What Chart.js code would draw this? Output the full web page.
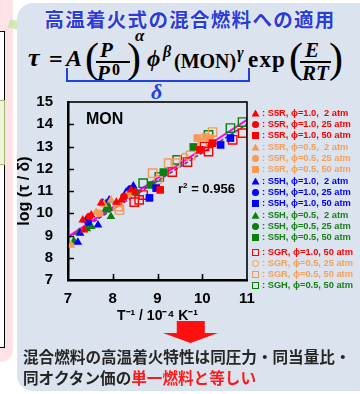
<!DOCTYPE html>
<html>
<head>
<meta charset="utf-8">
<script src="https://cdn.jsdelivr.net/npm/chart.js@4.4.1/dist/chart.umd.min.js"></script>
<style>
body { margin:0; width:360px; height:394px; overflow:hidden; background:#fff; position:relative; font-family:"Liberation Sans", Arial, sans-serif; }
.abs { position:absolute; }
#pink { left:0; top:0; width:13px; height:362px; background:#fde3e5; border-bottom-right-radius:12px; }
#box { left:-2px; top:31px; width:5px; height:315px; border:1px solid #000; background:#fff; }
#greenbox { left:-2px; top:100px; width:5px; height:63px; background:#eef4d8; border:1px solid #a8b870; }
#streak { left:8px; top:26px; width:60px; height:9px; background:linear-gradient(90deg, rgba(200,230,170,0.9), rgba(220,240,200,0.2)); transform:rotate(14deg); }
#panel { left:17px; top:3px; width:370px; height:388px; background:#dbe3ef; border-radius:16px; }
#title { left:30px; top:9px; width:320px; text-align:center; font-family:"Noto Sans CJK JP", sans-serif; font-weight:bold; font-size:19.5px; letter-spacing:1.3px; line-height:1; color:#2b3cd8; text-shadow:0 0 2px #fff; }
.f { position:absolute; font-family:"Liberation Serif", "DejaVu Serif", serif; font-weight:bold; line-height:1; color:#000; white-space:pre; }
.i { font-style:italic; }
.bar { position:absolute; height:2px; background:#000; }
.paren { font-weight:normal; font-size:42px; }
#brace { left:66px; top:68px; width:180px; height:12px; border:2px solid #2040e0; border-top:none; }
#delta { left:151px; top:81px; font-size:22px; color:#2040e0; }
#mon { left:86px; top:111px; font-weight:bold; font-size:16px; line-height:1; }
#r2 { left:178px; top:182px; font-weight:bold; font-size:13px; line-height:1; }
#r2 sup { font-size:8px; vertical-align:5px; line-height:0; }
#legend { left:252px; top:0; }
.row { position:absolute; left:0; height:11px; line-height:11px; font-weight:bold; font-size:9.3px; white-space:pre; }
.sym { position:absolute; left:0; top:2px; width:7px; height:7px; box-sizing:border-box; }
.row span.t { position:absolute; left:10px; top:0; }
#arrow { left:163px; top:321px; width:55px; height:22px; background:#ff1010; clip-path:polygon(25% 0, 76% 0, 76% 55%, 100% 55%, 50% 100%, 0 55%, 25% 55%); }
#note { left:23px; top:346px; font-family:"Noto Sans CJK JP", sans-serif; font-weight:bold; font-size:15.6px; line-height:20.5px; color:#262626; white-space:nowrap; }
#note .red { color:#ff1a1a; }
canvas { position:absolute; left:0; top:0; }
</style>
</head>
<body>
<div id="pink" class="abs"></div>
<div id="box" class="abs"></div>
<div id="greenbox" class="abs"></div>
<div id="streak" class="abs"></div>
<div id="panel" class="abs"></div>
<div id="title" class="abs">高温着火式の混合燃料への適用</div>

<div class="f i" style="left:28px;top:45px;font-size:26px;">τ</div>
<div class="f" style="left:49px;top:47px;font-size:24px;">=</div>
<div class="f i" style="left:66px;top:46px;font-size:24px;">A</div>
<div class="f paren" style="left:85px;top:37px;">(</div>
<div class="f i" style="left:100px;top:40px;font-size:21px;">P</div>
<div class="bar" style="left:96px;top:61px;width:34px;"></div>
<div class="f i" style="left:97px;top:63px;font-size:21px;">P</div>
<div class="f" style="left:112px;top:62px;font-size:16px;">0</div>
<div class="f paren" style="left:127px;top:37px;">)</div>
<div class="f i" style="left:135px;top:27px;font-size:17px;">α</div>
<div class="f i" style="left:147px;top:47px;font-size:23px;">ϕ</div>
<div class="f i" style="left:163px;top:44px;font-size:16px;">β</div>
<div class="f" style="left:174px;top:51px;font-size:20px;">(MON)</div>
<div class="f i" style="left:237px;top:45px;font-size:16px;">γ</div>
<div class="f" style="left:248px;top:48px;font-size:23px;letter-spacing:1.2px;">exp</div>
<div class="f paren" style="left:289px;top:37px;">(</div>
<div class="f i" style="left:305px;top:40px;font-size:21px;">E</div>
<div class="bar" style="left:300px;top:61px;width:31px;"></div>
<div class="f i" style="left:302px;top:63px;font-size:21px;">RT</div>
<div class="f paren" style="left:329px;top:37px;">)</div>
<div id="brace" class="abs"></div>
<div id="delta" class="f i">δ</div>

<canvas id="chart" width="360" height="394"></canvas>

<div id="mon" class="abs">MON</div>
<div id="r2" class="abs">r<sup>2</sup> = 0.956</div>
<div id="legend" class="abs"></div>

<div id="arrow" class="abs"></div>
<div id="note" class="abs">混合燃料の高温着火特性は同圧力・同当量比・<br>同オクタン価の<span class="red">単一燃料と等しい</span></div>

<script>
// series data [1/T (10^-4 K^-1), log(tau/delta)]
const s5r10_2  = [[7.33,9.7],[7.36,9.25],[7.52,9.92],[7.74,10.46],[8.08,10.5],[8.19,10.6],[8.41,11.05],[8.5,10.95]];
const s5r10_25 = [[7.48,9.85],[8.25,10.75]];
const s5r10_50 = [[9.06,11.05],[9.95,12.85],[10.23,13.15]];
const s5r05_2  = [[7.07,8.56],[7.63,10.05],[7.8,10.4],[7.96,10.6],[8.12,10.37]];
const s5r05_25 = [[7.7,10.0],[8.35,10.85]];
const s5r05_50 = [[9.89,13.38],[10.07,13.43],[10.18,13.38]];
const s5h10_2  = [[7.22,8.7],[7.27,9.1],[7.4,9.7],[7.67,9.47],[7.78,10.46],[7.92,10.6],[8.3,10.96],[8.46,11.22]];
const s5h10_25 = [[7.45,9.6],[8.4,11.1]];
const s5h10_50 = [[8.82,10.69],[8.97,11.13],[10.41,13.07],[10.63,13.38]];
const s5h05_2  = [[7.13,8.75],[7.25,9.15],[7.42,9.3],[7.52,9.4],[7.83,10.15],[7.85,10.45],[7.92,10.23],[7.96,9.85],[8.3,10.8]];
const s5h05_25 = [[7.88,10.3],[8.5,10.95]];
const s5h05_50 = [[8.87,11.27],[9.13,11.85],[9.8,12.98]];
const sgr10_50 = [[8.48,10.5],[8.59,10.6],[8.68,10.82],[9.33,11.85],[9.67,12.3],[10.05,13.0],[10.14,12.77],[10.68,13.3],[10.9,13.6]];
const sgr05_25 = [[9.02,11.5],[9.6,12.5]];
const sgr05_50 = [[8.12,10.3],[8.15,10.15],[8.89,11.8],[9.25,12.25],[9.4,12.25],[9.74,12.6],[10.0,13.15],[10.23,13.65]];
const sgh05_50 = [[8.68,11.35],[9.04,11.63],[9.44,12.4],[10.14,13.52],[10.63,13.83],[10.9,14.1]];

const fitX = [7, 11];
const fitMagenta = [8.95, 14.2];
const fitPurple = [8.89, 14.0];

const xTicks = [7, 8, 9, 10, 11];
const yTicks = [7, 8, 9, 10, 11, 12, 13, 14, 15];

const seriesLabels = [
    ': S5R, ϕ=1.0,  2 atm', ': S5R, ϕ=1.0, 25 atm', ': S5R, ϕ=1.0, 50 atm',
    ': S5R, ϕ=0.5,  2 atm', ': S5R, ϕ=0.5, 25 atm', ': S5R, ϕ=0.5, 50 atm',
    ': S5H, ϕ=1.0,  2 atm', ': S5H, ϕ=1.0, 25 atm', ': S5H, ϕ=1.0, 50 atm',
    ': S5H, ϕ=0.5,  2 atm', ': S5H, ϕ=0.5, 25 atm', ': S5H, ϕ=0.5, 50 atm',
    ': SGR, ϕ=1.0, 50 atm', ': SGR, ϕ=0.5, 25 atm', ': SGR, ϕ=0.5, 50 atm', ': SGH, ϕ=0.5, 50 atm'
];
const seriesData = [s5r10_2, s5r10_25, s5r10_50, s5r05_2, s5r05_25, s5r05_50,
    s5h10_2, s5h10_25, s5h10_50, s5h05_2, s5h05_25, s5h05_50,
    sgr10_50, sgr05_25, sgr05_50, sgh05_50];

const RED = '#ff0000', ORANGE = '#f79a55', BLUE = '#0000ff', GREEN = '#0a800a';
const colors = [RED, RED, RED, ORANGE, ORANGE, ORANGE, BLUE, BLUE, BLUE, GREEN, GREEN, GREEN, RED, ORANGE, ORANGE, GREEN];
const textColors = [RED, RED, RED, '#f4a05c', '#f4a05c', '#f4a05c', BLUE, BLUE, BLUE, '#1a801a', '#1a801a', '#1a801a', RED, '#f4a05c', '#f4a05c', '#1a801a'];
const shapes = ['tri', 'circ', 'sq', 'tri', 'circ', 'sq', 'tri', 'circ', 'sq', 'tri', 'circ', 'sq', 'osq', 'ocirc', 'osq', 'osq'];

function pointOpts(shape, color) {
    if (shape === 'tri') return { pointStyle: 'triangle', pointRadius: 5, backgroundColor: color, borderColor: color, borderWidth: 0 };
    if (shape === 'circ') return { pointStyle: 'circle', pointRadius: 3.8, backgroundColor: color, borderColor: color, borderWidth: 0 };
    if (shape === 'sq') return { pointStyle: 'rect', pointRadius: 5.4, backgroundColor: color, borderColor: color, borderWidth: 0 };
    if (shape === 'ocirc') return { pointStyle: 'circle', pointRadius: 4.2, backgroundColor: 'rgba(255,255,255,0)', borderColor: color, borderWidth: 1.4 };
    return { pointStyle: 'rect', pointRadius: 5.9, backgroundColor: 'rgba(255,255,255,0)', borderColor: color, borderWidth: 1.4 };
}

const datasets = seriesData.map((d, i) => Object.assign({
    label: seriesLabels[i],
    data: d.map(p => ({ x: p[0], y: p[1] })),
    order: 0
}, pointOpts(shapes[i], colors[i])));

datasets.push({
    type: 'line', label: 'fit1', data: fitX.map((x, i) => ({ x: x, y: fitMagenta[i] })),
    borderColor: '#ff00ff', borderWidth: 2, pointRadius: 0, order: 5
});
datasets.push({
    type: 'line', label: 'fit2', data: fitX.map((x, i) => ({ x: x, y: fitPurple[i] })),
    borderColor: '#7030a0', borderWidth: 1.6, borderDash: [4, 2], pointRadius: 0, order: 5
});

// inward tick marks + frame
const frameTicks = {
    id: 'frameTicks',
    afterDraw(chart) {
        const { ctx, chartArea: a, scales: { x, y } } = chart;
        ctx.save();
        ctx.strokeStyle = '#000';
        ctx.lineWidth = 1.6;
        ctx.strokeRect(a.left, a.top, a.right - a.left, a.bottom - a.top);
        ctx.beginPath();
        yTicks.slice(1, -1).forEach(v => {
            const py = Math.round(y.getPixelForValue(v)) + 0.5;
            ctx.moveTo(a.left, py); ctx.lineTo(a.left + 6, py);
        });
        xTicks.slice(1, -1).forEach(v => {
            const px = Math.round(x.getPixelForValue(v)) + 0.5;
            ctx.moveTo(px, a.bottom); ctx.lineTo(px, a.bottom - 6);
        });
        ctx.stroke();
        ctx.restore();
    }
};

const tickFont = { family: '"Liberation Sans", Arial, sans-serif', weight: 'bold', size: 15 };

new Chart(document.getElementById('chart'), {
    type: 'scatter',
    data: { datasets: datasets },
    options: {
        responsive: false,
        animation: false,
        events: [],
        layout: { padding: { left: 0, top: 102, right: 113, bottom: 0 } },
        plugins: { legend: { display: false }, tooltip: { enabled: false } },
        scales: {
            x: {
                type: 'linear', min: 7, max: 11,
                afterFit: s => { s.height = 114; },
                afterBuildTicks: s => { s.ticks = xTicks.map(v => ({ value: v })); },
                ticks: { font: tickFont, color: '#000', padding: 10 },
                grid: { drawOnChartArea: false, drawTicks: false },
                border: { display: true, color: '#000', width: 2.5 },
                title: {
                    display: true, text: 'T⁻¹ / 10⁻⁴ K⁻¹', color: '#000',
                    font: { family: '"Liberation Sans", Arial, sans-serif', weight: 'bold', size: 14 },
                    padding: { top: 0, bottom: 69 }
                }
            },
            y: {
                type: 'linear', min: 7, max: 15,
                afterFit: s => { s.width = 68; },
                afterBuildTicks: s => { s.ticks = yTicks.map(v => ({ value: v })); },
                ticks: { font: tickFont, color: '#000', padding: 15 },
                grid: { drawOnChartArea: false, drawTicks: false },
                border: { display: true, color: '#000', width: 2.5 },
                title: {
                    display: true, text: 'log (τ / δ)', color: '#000',
                    font: { family: '"Liberation Sans", Arial, sans-serif', weight: 'bold', size: 16 },
                    padding: { top: 15, bottom: 0 }
                }
            }
        }
    },
    plugins: [frameTicks]
});

// legend
const legend = document.getElementById('legend');
seriesLabels.forEach((lab, i) => {
    const cy = i < 12 ? 113 + i * 11.35 : 252 + (i - 12) * 11.1;
    const row = document.createElement('div');
    row.className = 'row';
    row.style.top = (cy - 5.5) + 'px';
    row.style.color = textColors[i];
    const sym = document.createElement('div');
    sym.className = 'sym';
    const c = colors[i];
    const sh = shapes[i];
    if (sh === 'tri') { sym.style.background = c; sym.style.clipPath = 'polygon(50% 0, 100% 100%, 0 100%)'; sym.style.width = '8px'; sym.style.left = '-0.5px'; }
    else if (sh === 'circ') { sym.style.background = c; sym.style.borderRadius = '50%'; }
    else if (sh === 'sq') { sym.style.background = c; }
    else if (sh === 'ocirc') { sym.style.border = '1.5px solid ' + c; sym.style.borderRadius = '50%'; }
    else { sym.style.border = '1.5px solid ' + c; }
    const t = document.createElement('span');
    t.className = 't';
    t.textContent = lab;
    row.appendChild(sym);
    row.appendChild(t);
    legend.appendChild(row);
});
</script>
</body>
</html>
